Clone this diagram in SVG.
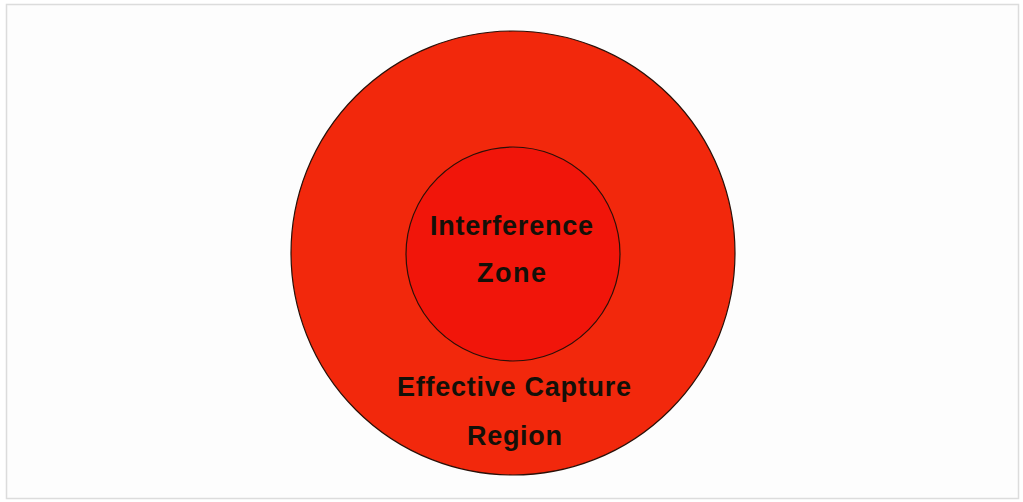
<svg xmlns="http://www.w3.org/2000/svg" width="1023" height="502" viewBox="0 0 1023 502">
<style>
.lbl{font-family:"Liberation Sans",Arial,sans-serif;font-size:27px;font-weight:bold;fill:#141008;text-anchor:middle}
.c{stroke:#2a1008;stroke-width:1.2}
</style>
<rect x="0" y="0" width="1023" height="502" fill="#ffffff"/>
<rect x="6.5" y="4.5" width="1012" height="494" fill="#fdfdfd" stroke="#dcdcdc" stroke-width="1.5"/>
<g id="effective-capture-region">
<circle class="c" cx="513" cy="253" r="222" fill="#f2280c"/>
<text class="lbl" x="514" y="396" textLength="234" lengthAdjust="spacing">Effective Capture</text>
<text class="lbl" x="514.5" y="445" textLength="95" lengthAdjust="spacing">Region</text>
</g>
<g id="interference-zone">
<circle class="c" cx="513" cy="254" r="107" fill="#f1150a"/>
<text class="lbl" x="511.5" y="235" textLength="163" lengthAdjust="spacing">Interference</text>
<text class="lbl" x="511.5" y="282" textLength="69" lengthAdjust="spacing">Zone</text>
</g>
<g id="connectors"></g>
</svg>
